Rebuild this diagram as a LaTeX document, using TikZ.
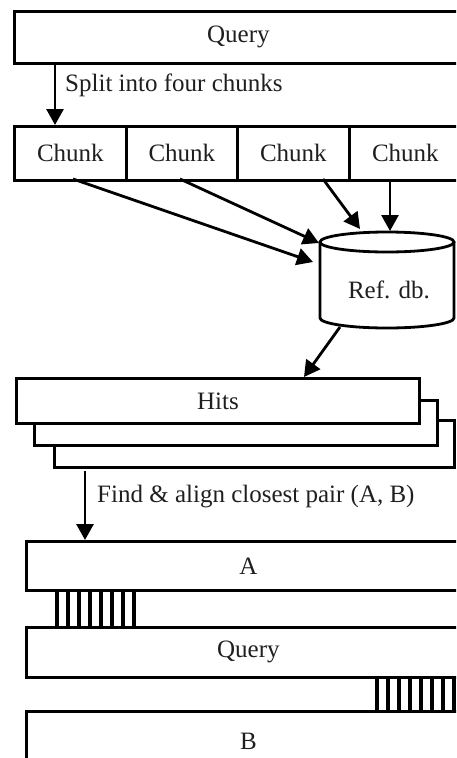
\documentclass[tikz,border=0pt]{standalone}
\usepackage{fontspec}
\setmainfont{Liberation Serif}
\usetikzlibrary{arrows.meta,calc}
\begin{document}
\begin{tikzpicture}[x=1pt,y=-1pt,
  box/.style={draw=black,line width=2.8pt,fill=white,rectangle,inner sep=0pt,anchor=north west,font=\fontsize{25}{28}\selectfont,text=black!88},
  lbl/.style={inner sep=0pt,anchor=west,font=\fontsize{25}{28}\selectfont,text=black!88},
  arr/.style={line width=2.8pt,-{Triangle[length=16pt,width=17pt]}},
  hatch/.style={line width=3.6pt}]
\clip (0,0) rectangle (456,758);
\fill[white] (0,0) rectangle (456,758);
% top query
\node[box,minimum width=448pt,minimum height=52pt] (q1) at (13,10) {Query};
% chunks
\node[box,minimum width=112pt,minimum height=54pt] (c1) at (13,125) {Chunk};
\node[box,minimum width=111pt,minimum height=54pt] (c2) at (125,125) {Chunk};
\node[box,minimum width=112pt,minimum height=54pt] (c3) at (236,125) {Chunk};
\node[box,minimum width=112pt,minimum height=54pt] (c4) at (348,125) {Chunk};
\coordinate (qa) at (55,62);
\coordinate (ca) at (55,125);
\draw[arr] (qa) -- (ca);
\node[lbl] (split) at (65,85) {Split into four chunks};
% database cylinder
\draw[line width=2.8pt,fill=white] (320,242) -- (320,318) arc[start angle=180,end angle=360,x radius=67,y radius=-10] -- (454,242);
\draw[line width=2.8pt,fill=white] (387,242) ellipse[x radius=67,y radius=10];
\node[lbl,anchor=center] (db) at (389,290) {Ref. db.};
\coordinate (d1) at (313,262);
\coordinate (d2) at (319,243);
\coordinate (d3) at (360,229);
\coordinate (d4) at (390,231);
\coordinate (s1) at (73,179);
\coordinate (s2) at (180,179);
\coordinate (s3) at (323,179);
\coordinate (s4) at (390,179);
\draw[arr] (s1) -- (d1);
\draw[arr] (s2) -- (d2);
\draw[arr] (s3) -- (d3);
\draw[arr] (s4) -- (d4);
% hits
\node[box,minimum width=400pt,minimum height=47pt] (h3) at (53,419) {};
\node[box,minimum width=403pt,minimum height=45pt] (h2) at (33,399) {};
\node[box,minimum width=403pt,minimum height=45pt] (h1) at (15,377) {Hits};
\coordinate (db0) at (340,327);
\coordinate (h1t) at (304,377);
\draw[arr] (db0) -- (h1t);
% find & align
\coordinate (fa) at (85,471);
\coordinate (fb) at (85,540);
\draw[arr] (fa) -- (fb);
\node[lbl] (find) at (97,497) {Find \& align closest pair (A, B)};
% A, query, B
\node[box,minimum width=444pt,minimum height=49pt] (A) at (25,540) {A};
\node[box,minimum width=444pt,minimum height=50pt] (Q2) at (25,626) {Query};
\node[box,minimum width=444pt,minimum height=60pt] (B) at (25,710) {B};
% hatches
\foreach \i in {0,...,7}{
  \draw[hatch] ({57+\i*11},589) -- ({57+\i*11},626);
  \draw[hatch] ({377+\i*11},676) -- ({377+\i*11},710);
}
\end{tikzpicture}
\end{document}
